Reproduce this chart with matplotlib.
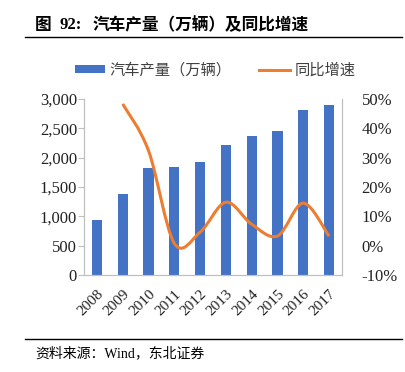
import matplotlib.pyplot as plt
from matplotlib.path import Path
from matplotlib.patches import PathPatch
from matplotlib.ticker import FuncFormatter

plt.rcParams['font.family'] = ['Noto Sans CJK SC', 'DejaVu Sans']

years = ["2008", "2009", "2010", "2011", "2012", "2013", "2014", "2015", "2016", "2017"]
output = [935, 1379, 1826, 1842, 1927, 2212, 2372, 2450, 2812, 2902]
growth_years = ["2009", "2010", "2011", "2012", "2013", "2014", "2015", "2016", "2017"]
growth = [48.3, 32.4, 0.8, 4.6, 14.8, 7.3, 3.3, 14.5, 3.2]

BLUE = "#4472C4"
ORANGE = "#ED7D31"
GRID = "#BFBFBF"
SERIF = ["Liberation Serif", "Noto Sans CJK SC"]


def smooth_path(xs, ys):
    """Excel-like smoothed line: cubic Bezier through the points (Catmull-Rom)."""
    verts = [(xs[0], ys[0])]
    codes = [Path.MOVETO]
    n = len(xs)
    for i in range(n - 1):
        x0, y0 = (xs[i - 1], ys[i - 1]) if i > 0 else (xs[i], ys[i])
        x1, y1 = xs[i], ys[i]
        x2, y2 = xs[i + 1], ys[i + 1]
        x3, y3 = (xs[i + 2], ys[i + 2]) if i + 2 < n else (x2, y2)
        c1 = (x1 + (x2 - x0) / 6, y1 + (y2 - y0) / 6)
        c2 = (x2 - (x3 - x1) / 6, y2 - (y3 - y1) / 6)
        verts += [c1, c2, (x2, y2)]
        codes += [Path.CURVE4] * 3
    return Path(verts, codes)


fig = plt.figure(figsize=(4.06, 3.72), dpi=100)
ax = fig.add_axes([84 / 406, 1 - 275 / 372, (342 - 84) / 406, (275 - 99) / 372])

xpos = list(range(len(years)))
ax.bar(xpos, output, width=0.4, color=BLUE, zorder=2, label="汽车产量（万辆）")
ax.set_xlim(-0.5, len(years) - 0.5)
ax.set_ylim(0, 3000)
ax.set_yticks(range(0, 3001, 500))
ax.yaxis.set_major_formatter(FuncFormatter(lambda v, p: f"{int(v):,}"))
ax.set_xticks(xpos)
ax.set_xticklabels(years, rotation=45, ha="right", rotation_mode="anchor")

ax2 = ax.twinx()
ax2.set_ylim(-10, 50)
ax2.set_yticks(range(-10, 51, 10))
ax2.yaxis.set_major_formatter(FuncFormatter(lambda v, p: f"{int(v)}%"))
gx = [years.index(y) for y in growth_years]
ax2.add_patch(PathPatch(smooth_path(gx, growth), facecolor="none",
                        edgecolor=ORANGE, linewidth=2.2, zorder=3))
ax2.plot([], [], color=ORANGE, linewidth=2.2, label="同比增速")

for a in (ax, ax2):
    a.spines["top"].set_visible(False)
    for s in ("left", "right", "bottom"):
        a.spines[s].set_color(GRID)
    a.tick_params(colors="#222222", labelsize=12, length=4, color=GRID, pad=1)
    for lab in a.get_xticklabels() + a.get_yticklabels():
        lab.set_family(SERIF)
ax.tick_params(axis="x", length=0, pad=9, labelsize=11)
ax2.tick_params(axis="y", length=0, pad=14)

h1, l1 = ax.get_legend_handles_labels()
h2, l2 = ax2.get_legend_handles_labels()
fig.legend(h1 + h2, l1 + l2, loc="center", bbox_to_anchor=(215 / 406, 1 - 70 / 372),
           ncol=2, frameon=False, fontsize=11, handlelength=2.0, handleheight=0.45,
           columnspacing=1.8, handletextpad=0.3, labelcolor="#404040")

# title pieces
ty = 1 - 25 / 372
fig.text(35 / 406, ty, "图", fontsize=12, fontweight="bold", va="center", ha="left")
fig.text(60 / 406, ty, "92:", fontsize=12, fontweight="bold", va="center", ha="left",
         family=SERIF)
fig.text(93 / 406, ty, "汽车产量（万辆）及同比增速", fontsize=12, fontweight="bold",
         va="center", ha="left")
fig.add_artist(plt.Line2D([25 / 406, 402 / 406], [1 - 37 / 372] * 2,
                          color="black", linewidth=1))
fig.add_artist(plt.Line2D([25 / 406, 402 / 406], [1 - 339 / 372] * 2,
                          color="black", linewidth=1))
fig.text(35 / 406, 1 - 353 / 372, "资料来源：Wind，东北证券",
         fontsize=10, va="center", ha="left", family=SERIF)

fig.savefig("out.png", dpi=100)
